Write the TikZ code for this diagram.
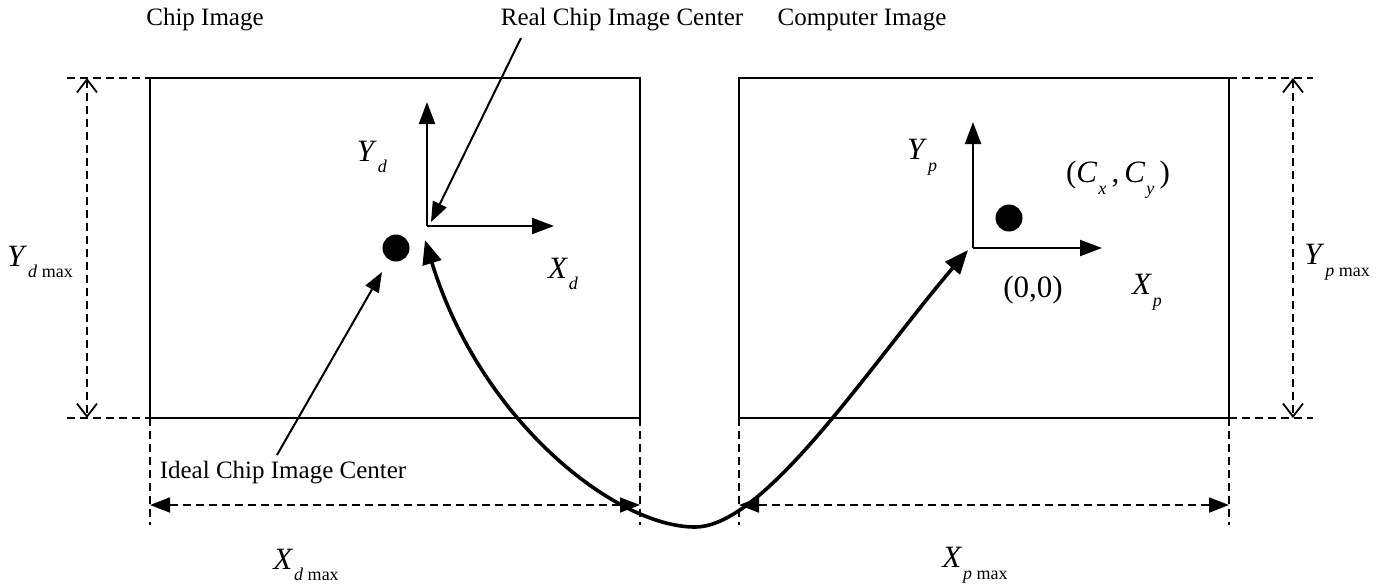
\documentclass[tikz,border=0pt]{standalone}
\usepackage{fontspec}
\setmainfont{Liberation Serif}
\usetikzlibrary{arrows.meta}
\newcommand{\vsym}[2]{\textit{#1}\kern1pt\raisebox{-0.38em}{\fontsize{18}{18}\selectfont #2}}
\begin{document}
\begin{tikzpicture}[x=1pt,y=-1pt,
  box/.style={line width=1.8pt},
  dim/.style={dash pattern=on 8pt off 5pt, line width=1.8pt},
  dimh/.style={dim, {Triangle[length=20pt,width=15pt]}-{Triangle[length=20pt,width=15pt]}},
  dimv/.style={dim, {Straight Barb[length=13pt,width=20pt,line width=1.8pt]}-{Straight Barb[length=13pt,width=20pt,line width=1.8pt]}},
  axis/.style={line width=2.2pt, -{Triangle[length=22pt,width=16pt]}},
  pointer/.style={line width=2pt, -{Triangle[length=20pt,width=15pt]}},
  curve/.style={line width=3.6pt, {Triangle[length=24pt,width=19pt]}-{Triangle[length=24pt,width=19pt]}},
  lab/.style={font=\fontsize{25}{30}\selectfont, inner sep=0pt},
  sym/.style={font=\fontsize{31}{34}\selectfont, inner sep=0pt},
  dot/.style={circle, fill=black, minimum size=27pt, inner sep=0pt}
]
\useasboundingbox (0,0) rectangle (1381,587);

% boxes
\coordinate (LA) at (150,78);  \coordinate (LB) at (640,418);
\coordinate (RA) at (739,78);  \coordinate (RB) at (1229,418);
\draw[box] (LA) rectangle (LB);
\draw[box] (RA) rectangle (RB);

% extension lines
\coordinate (lt) at (67,78);   \coordinate (lb) at (67,418);
\coordinate (rt) at (1313,78); \coordinate (rb) at (1313,418);
\draw[dim] (lt) -- (LA);
\draw[dim] (lb) -- (150,418);
\draw[dim] (1229,78) -- (rt);
\draw[dim] (RB) -- (rb);
\coordinate (e1a) at (150,418); \coordinate (e1b) at (150,525);
\coordinate (e2a) at (640,418); \coordinate (e2b) at (640,525);
\coordinate (e3a) at (739,418); \coordinate (e3b) at (739,525);
\coordinate (e4a) at (1229,418); \coordinate (e4b) at (1229,525);
\draw[dim] (e1a) -- (e1b);
\draw[dim] (e2a) -- (e2b);
\draw[dim] (e3a) -- (e3b);
\draw[dim] (e4a) -- (e4b);

% dimension arrows
\coordinate (dx1a) at (150,505); \coordinate (dx1b) at (640,505);
\coordinate (dx2a) at (739,505); \coordinate (dx2b) at (1229,505);
\draw[dimh] (dx1a) -- (dx1b);
\draw[dimh] (dx2a) -- (dx2b);
\coordinate (dy1a) at (87,78);   \coordinate (dy1b) at (87,418);
\coordinate (dy2a) at (1293,78); \coordinate (dy2b) at (1293,418);
\draw[dimv] (dy1a) -- (dy1b);
\draw[dimv] (dy2a) -- (dy2b);

% titles
\node[lab] (t1) at (205,20) {Chip Image};
\node[lab] (t2) at (622,20) {Real Chip Image Center};
\node[lab] (t3) at (862,20) {Computer Image};
\node[lab] (t4) at (283,473) {Ideal Chip Image Center};

% dimension labels
\node[sym] (ydm) at (40,262) {\vsym{Y}{\textit{d} max}};
\node[sym] (ypm) at (1337,262) {\vsym{Y}{\textit{p} max}};
\node[sym] (xdm) at (306,565) {\vsym{X}{\textit{d} max}};
\node[sym] (xpm) at (975,565) {\vsym{X}{\textit{p} max}};

% left axes
\coordinate (O1) at (427,226);
\coordinate (Y1) at (427,102);
\coordinate (X1) at (554,226);
\draw[axis] (O1) -- (Y1);
\draw[axis] (O1) -- (X1);
\node[dot] (d1) at (396,248) {};
\node[sym] (yd) at (372,157) {\vsym{Y}{\textit{d}}};
\node[sym] (xd) at (563,274) {\vsym{X}{\textit{d}}};

% right axes
\coordinate (O2) at (973,248);
\coordinate (Y2) at (973,122);
\coordinate (X2) at (1102,248);
\draw[axis] (O2) -- (Y2);
\draw[axis] (O2) -- (X2);
\node[dot] (d2) at (1009,218) {};
\node[sym] (yp) at (922,157) {\vsym{Y}{\textit{p}}};
\node[sym] (xp) at (1147,292) {\vsym{X}{\textit{p}}};
\node[sym] (cc) at (1118,180) {(\vsym{C}{\textit{x}}\,,\,\vsym{C}{\textit{y}}\,)};
\node[sym] (zz) at (1033,290) {(0,0)};

% pointers
\coordinate (rp) at (521,38);
\coordinate (rq) at (431,222);
\draw[pointer] (rp) -- (rq);
\coordinate (ip) at (277,455);
\coordinate (iq) at (382,272);
\draw[pointer] (ip) -- (iq);

% curve
\coordinate (ca) at (425,240);
\coordinate (cm) at (695,527);
\coordinate (cb) at (968,250);
\draw[curve] (ca) .. controls (480,420) and (615,527) .. (cm)
                  .. controls (765,527) and (870,365) .. (cb);
\end{tikzpicture}
\end{document}
